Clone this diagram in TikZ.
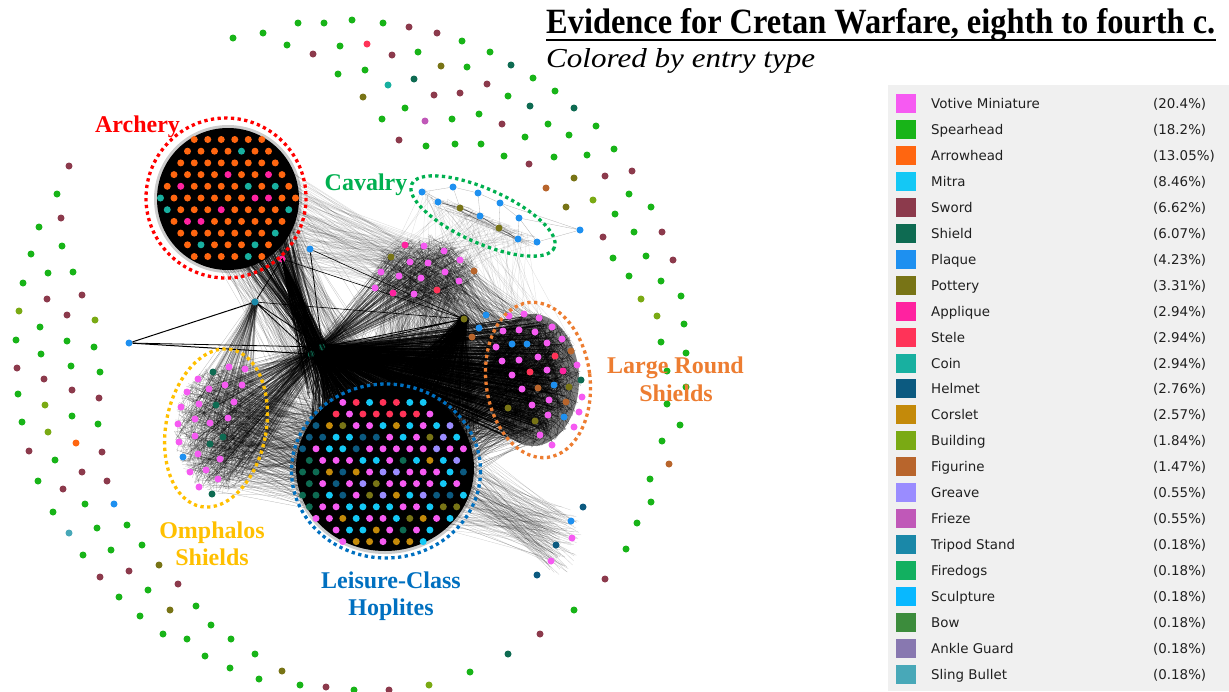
\documentclass[tikz,border=0pt]{standalone}
\usepackage{fontspec}
\setmainfont{Liberation Serif}
\newfontfamily\legfont{DejaVu Sans}
\usepackage{graphicx}
\usetikzlibrary{calc}
\definecolor{votive}{HTML}{F65AF2}
\definecolor{spear}{HTML}{18B418}
\definecolor{arrow}{HTML}{FF6610}
\definecolor{mitra}{HTML}{14C8F5}
\definecolor{sword}{HTML}{8C3A4C}
\definecolor{shieldc}{HTML}{0E6B52}
\definecolor{plaque}{HTML}{1E90F0}
\definecolor{pottery}{HTML}{787416}
\definecolor{applique}{HTML}{FF22A0}
\definecolor{stele}{HTML}{FF3358}
\definecolor{coin}{HTML}{18B0A0}
\definecolor{helmet}{HTML}{0C5A80}
\definecolor{corslet}{HTML}{C48A0A}
\definecolor{building}{HTML}{7AAA14}
\definecolor{figurine}{HTML}{B8652C}
\definecolor{greave}{HTML}{9A8CFF}
\definecolor{frieze}{HTML}{C058B8}
\definecolor{tripod}{HTML}{1A88A8}
\definecolor{firedogs}{HTML}{12B060}
\definecolor{sculpture}{HTML}{08B8FF}
\definecolor{bow}{HTML}{3C8C3C}
\definecolor{ankle}{HTML}{8878B0}
\definecolor{sling}{HTML}{48A8B8}
\definecolor{archred}{HTML}{FF0000}
\definecolor{cavgreen}{HTML}{00B050}
\definecolor{lrsorange}{HTML}{ED7D31}
\definecolor{omphyellow}{HTML}{FFC000}
\definecolor{hopblue}{HTML}{0070C0}
\definecolor{legbg}{HTML}{F0F0F0}
\definecolor{legtext}{HTML}{202020}
\pgfmathdeclarerandomlist{arch}{{arrow}{arrow}{arrow}{arrow}{arrow}{arrow}{arrow}{arrow}{arrow}{arrow}{arrow}{arrow}{coin}{coin}{applique}}
\pgfmathdeclarerandomlist{hop}{{votive}{votive}{votive}{votive}{votive}{votive}{mitra}{mitra}{mitra}{mitra}{mitra}{mitra}{corslet}{corslet}{helmet}{shieldc}{greave}{pottery}}
\pgfmathdeclarerandomlist{hopL}{{shieldc}{shieldc}{shieldc}{shieldc}{helmet}{votive}}
\pgfmathdeclarerandomlist{hopT}{{stele}{stele}{stele}{pottery}{corslet}{mitra}{votive}}
\newcommand\rndpt[5]{\pgfmathsetmacro\rpa{360*rnd}\pgfmathsetmacro\rpr{sqrt(rnd)}\coordinate (#1) at ({#2+#4*\rpr*cos(\rpa)},{#3+#5*\rpr*sin(\rpa)});}
\newcommand\rndcav[1]{\pgfmathsetmacro\rpt{rnd}\pgfmathsetmacro\rpn{14*(rnd-0.5)}\coordinate (#1) at ({422+116*\rpt},{194+50*\rpt+\rpn});}
\newcommand\bundle[4]{\foreach \k in {1,...,#1}{#3#4\draw[#2] (p)--(q);}}
\begin{document}
\begin{tikzpicture}[x=1pt,y=-1pt,
 dotn/.style={circle,inner sep=0pt,minimum size=7pt,draw=none},
 edg/.style={line width=0.25pt,draw=black,draw opacity=#1}, edg/.default=0.25,
 edgk/.style={line width=0.45pt,draw=black,draw opacity=#1},
 hubline/.style={line width=#1,draw=black},
 dotring/.style={line width=3.3pt,dash pattern=on 3.3pt off 3.4pt},
 lab/.style={font=\bfseries\fontsize{24}{28}\selectfont,inner sep=0pt,anchor=base},
 legsq/.style={rectangle,inner sep=0pt,minimum width=20pt,minimum height=19pt,draw=none},
 legtxt/.style={font=\legfont\fontsize{13.4}{15}\selectfont,text=legtext,inner sep=0pt,anchor=base west}]
\useasboundingbox (0,0) rectangle (1229,691);
\fill[white] (0,0) rectangle (1229,691);
\pgfmathsetseed{12345}
% ---------- edge hairball ----------
\bundle{300}{edg=0.3}{\rndpt{p}{218}{430}{44}{64}}{\rndpt{q}{218}{430}{44}{64}}
\bundle{260}{edg=0.3}{\rndpt{p}{425}{272}{55}{38}}{\rndpt{q}{425}{272}{55}{38}}
\bundle{450}{edg=0.55}{\rndpt{p}{533}{380}{48}{68}}{\rndpt{q}{533}{380}{48}{68}}
\bundle{500}{edg=0.4}{\rndpt{p}{385}{450}{80}{65}}{\rndpt{q}{525}{380}{45}{65}}
\bundle{240}{edg=0.25}{\rndpt{p}{385}{468}{80}{75}}{\rndpt{q}{425}{272}{50}{32}}
\bundle{220}{edg=0.3}{\rndpt{p}{533}{380}{45}{65}}{\rndpt{q}{425}{272}{50}{32}}
\bundle{140}{edg=0.18}{\rndpt{p}{235}{205}{65}{65}}{\rndpt{q}{425}{272}{50}{32}}
\bundle{160}{edg=0.25}{\rndpt{p}{245}{215}{55}{55}}{\rndpt{q}{385}{468}{80}{75}}
\bundle{160}{edgk=0.55}{\rndpt{p}{262}{238}{35}{30}}{\rndpt{q}{318}{350}{10}{8}}
\bundle{350}{edg=0.32}{\rndpt{p}{218}{430}{44}{64}}{\rndpt{q}{385}{468}{80}{75}}
\bundle{250}{edg=0.4}{\rndpt{p}{225}{430}{40}{64}}{\rndpt{q}{318}{350}{12}{10}}
\bundle{100}{edg=0.3}{\rndpt{p}{218}{430}{44}{64}}{\rndpt{q}{255}{302}{4}{4}}
\bundle{350}{edgk=0.7}{\rndpt{p}{318}{350}{8}{6}}{\rndpt{q}{525}{380}{45}{65}}
\bundle{350}{edgk=0.7}{\rndpt{p}{318}{350}{8}{6}}{\rndpt{q}{385}{440}{80}{55}}
\bundle{200}{edgk=0.6}{\rndpt{p}{318}{350}{8}{6}}{\rndpt{q}{420}{375}{60}{35}}
\bundle{120}{edg=0.45}{\rndpt{p}{318}{350}{8}{6}}{\rndpt{q}{425}{272}{50}{32}}
\bundle{220}{edgk=0.6}{\rndpt{p}{464}{319}{5}{5}}{\rndpt{q}{410}{430}{70}{40}}
\bundle{160}{edg=0.22}{\rndpt{p}{440}{480}{40}{55}}{\rndpt{q}{560}{540}{22}{35}}
\bundle{60}{edg=0.15}{\rndcav{p}}{\rndpt{q}{425}{272}{50}{32}}
\bundle{40}{edg=0.15}{\rndcav{p}}{\rndpt{q}{533}{360}{45}{50}}
\bundle{50}{edg=0.2}{\rndcav{p}}{\rndcav{q}}
% ---------- hub nodes ----------
\node[dotn,fill=plaque] (h1) at (129,343) {};
\node[dotn,fill=tripod] (h2) at (255,302) {};
\node[dotn,fill=applique] (h3) at (282,259) {};
\node[dotn,fill=shieldc] (h4) at (311,354) {};
\node[dotn,fill=shieldc] (h5) at (322,347) {};
\node[dotn,fill=pottery] (h6) at (464,319) {};
\node[dotn,fill=plaque] (h7) at (310,249) {};
\draw[hubline=1pt] (h1)--(h2) (h1)--(h4);
\draw[hubline=0.8pt] (h1)--(h5) (h2)--(h3) (h2)--(h4) (h2)--(h5) (h7)--(h5) (h5)--(h6) (h4)--(h6);
\draw[hubline=0.6pt] (h2)--(h6) (h3)--(h6) (h7)--(h6);
\draw[hubline=1.3pt] (h3)--(h4) (h3)--(h5);
\bundle{40}{hubline=0.6pt,draw opacity=0.8}{\coordinate (p) at (h3);}{\rndpt{q}{322}{375}{20}{30}}
% ---------- dense discs ----------
\fill[black,opacity=0.2] (228,199) circle[radius=74];
\fill[black] (228,199) circle[radius=71];
\fill[black,opacity=0.2] (385,468) ellipse[x radius=92,y radius=86];
\fill[black] (385,468) ellipse[x radius=89,y radius=83];
\fill[black,opacity=0.5] (533,380) ellipse[x radius=46,y radius=66];
% ---------- cluster dots ----------
\foreach \r in {-6,...,6}{
  \foreach \c in {-6,...,6}{
    \pgfmathsetmacro\dx{13.5*(\c+0.5*mod(abs(\r),2))}
    \pgfmathsetmacro\dy{11.7*\r}
    \pgfmathtruncatemacro\ins{((\dx/68)^2+(\dy/68)^2<1)?1:0}
    \ifnum\ins=1
      \pgfmathrandomitem\col{arch}
      \node[dotn,fill=\col] (arch\r x\c) at (228+\dx,198+\dy) {};
    \fi
  }}
\foreach \r in {-7,...,7}{
  \foreach \c in {-7,...,7}{
    \pgfmathsetmacro\dx{13.4*(\c+0.5*mod(abs(\r),2))}
    \pgfmathsetmacro\dy{11.6*\r}
    \pgfmathtruncatemacro\ins{((\dx/86)^2+(\dy/80)^2<1)?1:0}
    \ifnum\ins=1
      \pgfmathtruncatemacro\zone{(\dx<-55)?1:((\dy<-50)?2:0)}
      \ifcase\zone \pgfmathrandomitem\col{hop}\or\pgfmathrandomitem\col{hopL}\or\pgfmathrandomitem\col{hopT}\fi
      \node[dotn,fill=\col] (hop\r x\c) at (383+\dx,472+\dy) {};
    \fi
  }}
\foreach \x/\y/\c [count=\i] in {405/245/applique,424/246/votive,444/251/votive,460/260/votive,391/257/pottery,410/262/votive,428/263/votive,381/272/votive,399/276/votive,421/278/votive,445/272/votive,459/281/votive,375/288/votive,393/293/applique,414/294/votive,437/290/stele,474/271/figurine}
  \node[dotn,fill=\c] (up\i) at (\x,\y) {};
\foreach \x/\y/\c [count=\i] in {486/315/plaque,479/328/plaque,472/337/figurine,509/316/votive,524/314/votive,539/318/votive,552/327/votive,562/339/votive,503/331/votive,519/330/votive,535/332/votive,547/343/votive,496/347/votive,512/344/plaque,527/344/plaque,571/351/figurine,502/361/votive,519/360/votive,538/357/votive,555/356/stele,512/375/votive,530/372/stele,547/370/votive,563/371/applique,577/365/votive,581/380/shieldc,522/389/votive,538/388/figurine,554/385/plaque,569/387/pottery,582/397/votive,508/408/pottery,532/405/votive,549/400/votive,566/402/figurine,579/412/votive,535/421/pottery,548/415/votive,564/417/plaque,574/427/votive,540/435/votive,552/445/votive}
  \node[dotn,fill=\c] (lrs\i) at (\x,\y) {};
\foreach \x/\y/\c [count=\i] in {213/372/shieldc,229/367/votive,245/369/votive,198/379/votive,225/385/votive,242/385/votive,187/392/votive,209/389/votive,216/405/shieldc,234/402/votive,181/407/votive,199/404/votive,210/423/votive,228/418/votive,195/419/votive,178/424/votive,223/437/shieldc,195/436/votive,179/442/votive,210/444/shieldc,220/459/votive,183/457/plaque,198/454/votive,206/470/votive,218/479/votive,190/472/votive,199/487/votive,212/494/shieldc}
  \node[dotn,fill=\c] (om\i) at (\x,\y) {};
% cavalry
\foreach \x/\y/\c [count=\i] in {422/192/plaque,453/187/plaque,478/193/plaque,500/203/plaque,519/218/plaque,537/242/plaque,438/202/plaque,460/208/pottery,480/216/plaque,499/228/pottery,518/239/plaque,580/230/plaque}
  \node[dotn,fill=\c] (cav\i) at (\x,\y) {};
\draw[line width=0.6pt,draw opacity=0.6] (cav7)--(cav8)--(cav9)--(cav10)--(cav11);
\draw[line width=0.3pt,draw opacity=0.3] (cav1)--(cav2)--(cav3)--(cav4)--(cav5)--(cav6) (cav1)--(cav7) (cav2)--(cav8) (cav3)--(cav9) (cav4)--(cav10) (cav5)--(cav11) (cav6)--(cav11) (cav12)--(cav5) (cav12)--(cav6) (cav12)--(cav4);
% fan nodes
\foreach \x/\y/\c [count=\i] in {583/507/helmet,571/521/plaque,572/538/votive,556/545/helmet,551/561/votive,537/575/helmet}
  \node[dotn,fill=\c] (fan\i) at (\x,\y) {};
% ---------- isolated ring ----------
\foreach \x/\y/\c [count=\i] in {233/38/spear,263/33/spear,298/23/spear,324/23/spear,352/20/spear,383/23/spear,409/27/sword,437/33/sword,462/41/spear,490/52/spear,533/78/spear,287/45/spear,313/54/sword,340/46/spear,367/44/stele,392/55/sword,418/52/spear,441/66/pottery,467/67/spear,511/65/shieldc,338/74/spear,365/70/spear,388/85/coin,414/79/shieldc,434/95/sword,460/93/sword,487/84/sword,508/96/spear,530/106/shieldc,363/97/pottery,405/108/spear,382/119/spear,425/121/frieze,452/119/spear,479/114/spear,502/124/sword,525/137/spear,399/140/sword,426/146/spear,455/144/spear,481/144/spear,504/156/spear,529/164/sword,555/91/spear,574/108/shieldc,548/124/spear,569/135/spear,596/126/spear,554/157/spear,587/155/spear,614/149/spear,546/188/figurine,574/178/pottery,605/176/sword,632/171/sword,629/194/spear,593/200/building,651/207/spear,566/207/pottery,615/214/spear,634/232/spear,662/232/sword,603/237/sword,613/258/spear,646/256/spear,673/260/sword,629/276/spear,661/281/spear,681/296/spear,641/299/building,684/324/spear,657/316/building,661/342/spear,686/353/spear,667/371/spear,686/387/spear,667/404/spear,680/425/spear,662/441/spear,669/464/figurine,650/479/spear,651/502/spear,637/523/spear,626/549/spear,605/579/sword,574/610/spear,540/634/sword,508/654/shieldc,470/672/spear,429/685/building,389/690/sword}
  \node[dotn,fill=\c] (rt\i) at (\x,\y) {};
\foreach \x/\y/\c [count=\i] in {69/166/sword,57/194/spear,61/218/sword,39/227/spear,62/246/spear,31/254/spear,48/273/spear,73/272/spear,23/283/spear,47/299/sword,82/295/sword,19/311/building,67/315/sword,95/320/building,40/327/spear,16/340/spear,67/341/spear,94/347/spear,41/354/spear,17/368/sword,71/366/spear,100/372/spear,44/379/sword,72/390/sword,18/394/spear,99/398/sword,45/405/building,72/416/spear,22/422/spear,98/424/spear,48/432/building,76/443/arrow,29/451/sword,102/452/sword,55/460/spear,82/472/sword,38/481/spear,107/481/sword,63/489/sword,85/504/spear,114/504/plaque,53/512/spear,69/533/sling,97/528/spear,127/525/spear,83/555/spear,111/550/spear,142/545/spear,100/577/sword,129/571/sword,159/565/pottery,119/597/spear,148/590/spear,178/584/sword,140/616/spear,170/610/pottery,196/606/spear,163/634/spear,187/639/spear,211/625/spear,205/656/spear,231/639/spear,230/668/spear,255/654/spear,259/679/spear,282/671/pottery,300/685/spear,326/687/sword,354/690/spear}
  \node[dotn,fill=\c] (lt\i) at (\x,\y) {};
% ---------- dotted outlines ----------
\draw[dotring,draw=archred] (226,198) circle[radius=80];
\draw[dotring,draw=hopblue] (386,471) ellipse[x radius=94.5,y radius=87];
\draw[dotring,draw=lrsorange,rotate around={7:(538,380)}] (538,380) ellipse[x radius=52,y radius=78];
\draw[dotring,draw=omphyellow,rotate around={-11:(216,428)}] (216,428) ellipse[x radius=50,y radius=80];
\draw[dotring,draw=cavgreen,rotate around={-24:(483,216)}] (483,216) ellipse[x radius=78,y radius=27];
% ---------- labels ----------
\node[lab,text=archred] (larch) at (137.5,132) {Archery};
\node[lab,text=cavgreen] (lcav) at (366,190) {Cavalry};
\node[lab,text=lrsorange] (llrs1) at (675.5,373) {Large Round};
\node[lab,text=lrsorange] (llrs2) at (676,401) {Shields};
\node[lab,text=omphyellow] (lom1) at (212,538) {Omphalos};
\node[lab,text=omphyellow] (lom2) at (212,565) {Shields};
\node[lab,text=hopblue] (lhop1) at (391,588) {Leisure-Class};
\node[lab,text=hopblue] (lhop2) at (391,615) {Hoplites};
% ---------- title ----------
\node[anchor=base west,inner sep=0pt] (title) at (546,33) {\resizebox{669pt}{25pt}{\fontsize{30}{34}\selectfont\bfseries Evidence for Cretan Warfare, eighth to fourth c.}};
\coordinate (ul1) at (546,40);
\coordinate (ul2) at (1216,40);
\draw[line width=2.4pt] (ul1)--(ul2);
\node[anchor=base west,inner sep=0pt] (sub) at (546,67) {\resizebox{269pt}{19pt}{\fontsize{24}{28}\selectfont\itshape Colored by entry type}};
% ---------- legend ----------
\fill[legbg] (888,85) rectangle (1229,691);
\foreach \n/\c/\p [count=\i from 0] in {Votive Miniature/votive/20.4,Spearhead/spear/18.2,Arrowhead/arrow/13.05,Mitra/mitra/8.46,Sword/sword/6.62,Shield/shieldc/6.07,Plaque/plaque/4.23,Pottery/pottery/3.31,Applique/applique/2.94,Stele/stele/2.94,Coin/coin/2.94,Helmet/helmet/2.76,Corslet/corslet/2.57,Building/building/1.84,Figurine/figurine/1.47,Greave/greave/0.55,Frieze/frieze/0.55,Tripod Stand/tripod/0.18,Firedogs/firedogs/0.18,Sculpture/sculpture/0.18,Bow/bow/0.18,Ankle Guard/ankle/0.18,Sling Bullet/sling/0.18}{
  \pgfmathsetmacro\yy{103.5+25.95*\i}
  \node[legsq,fill=\c] (sq\i) at (905.5,\yy) {};
  \node[legtxt] (ln\i) at (931,\yy+5) {\n};
  \node[legtxt] (lp\i) at (1153,\yy+5) {(\p\%)};
}
\end{tikzpicture}
\end{document}
